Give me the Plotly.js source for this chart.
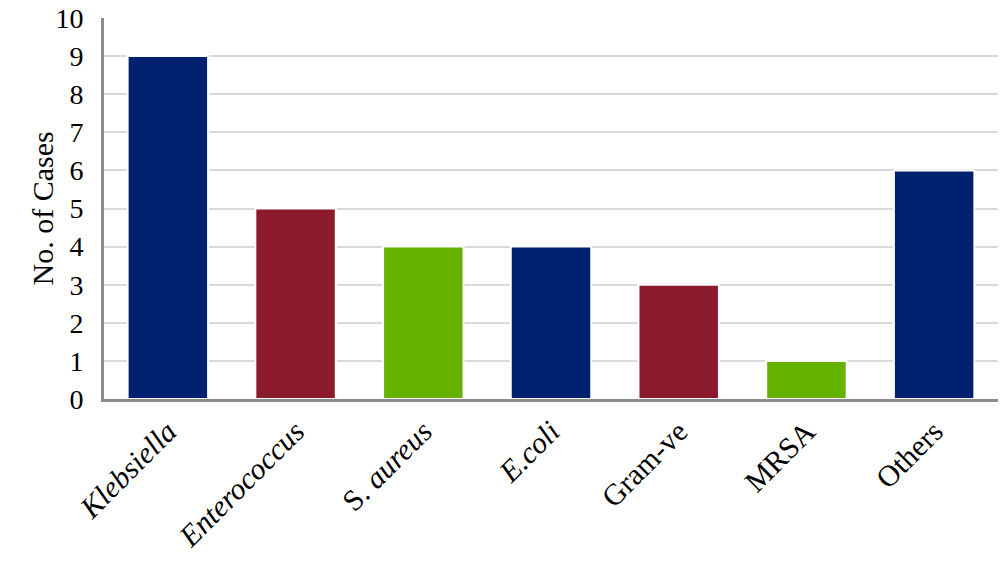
<!DOCTYPE html>
<html><head><meta charset="utf-8">
<script src="https://cdn.plot.ly/plotly-3.0.1.min.js"></script>
<style>body{margin:0;background:#fff}#c{width:1000px;height:568px}</style>
</head><body><div id="c"></div>
<script>
var categories = ["Klebsiella","Enterococcus","S. aureus","E.coli","Gram-ve","MRSA","Others"];
var tickLabels = ["<i>Klebsiella</i>","<i>Enterococcus</i>","S. <i>aureus</i>","<i>E.coli</i>","Gram-ve","MRSA","Others"];
var cases = [9,5,4,4,3,1,6];
var barColors = ["#002070","#8b1a2c","#66b200","#002070","#8b1a2c","#66b200","#002070"];
var yTicks = [0,1,2,3,4,5,6,7,8,9,10];
var yTitle = "No. of Cases";

var font = "Liberation Serif, Times New Roman, serif";
Plotly.newPlot("c", [{
  type: "bar", x: categories, y: cases,
  marker: {color: barColors, line: {color: "#ffffff", width: 2}},
  hoverinfo: "none"
}], {
  width: 1000, height: 568,
  margin: {l: 104, r: 2, t: 18, b: 169},
  paper_bgcolor: "#fff", plot_bgcolor: "#fff",
  bargap: 0.37,
  showlegend: false,
  font: {family: font, color: "#000", size: 28},
  xaxis: {
    tickvals: categories, ticktext: tickLabels, tickangle: -45,
    showline: true, linecolor: "#8c8c8c", linewidth: 3,
    showgrid: false, ticks: "", tickfont: {size: 30, family: font}
  },
  yaxis: {
    range: [0, 10], tickvals: yTicks, showline: true, linecolor: "#8c8c8c", linewidth: 3,
    gridcolor: "#d9d9d9", gridwidth: 2, zeroline: false,
    ticks: "outside", ticklen: 12, tickcolor: "rgba(0,0,0,0)",
    tickfont: {size: 28, family: font}
  },
  annotations: [{
    text: yTitle, textangle: -90, xref: "paper", yref: "paper",
    x: 0, y: 0.5, xanchor: "center", yanchor: "middle", xshift: -62, showarrow: false,
    font: {size: 30, family: font, color: "#000"}
  }]
}, {staticPlot: true});
</script></body></html>
